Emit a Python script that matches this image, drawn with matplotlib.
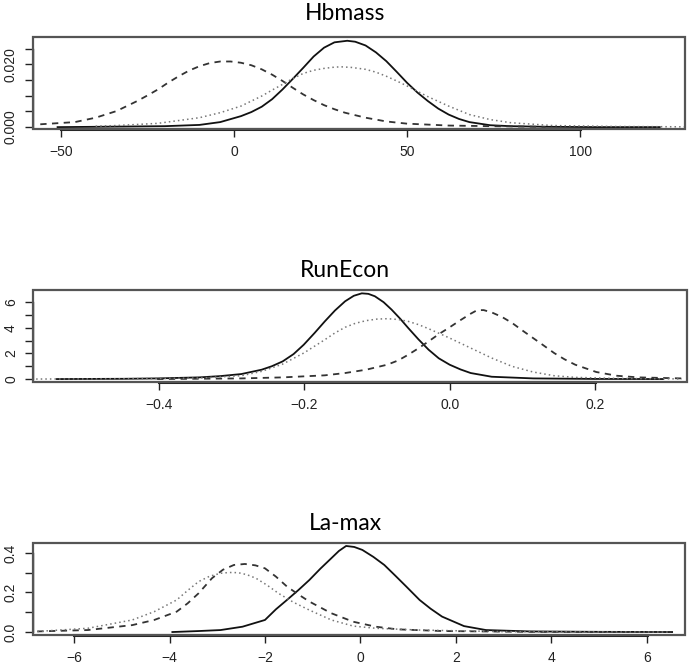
import matplotlib
matplotlib.use("Agg")
import matplotlib.pyplot as plt
from matplotlib.patches import Rectangle

# values (x, density) for each panel
# Hbmass
hb_solid_x = [-51, -40, -30, -20, -10, -4, 2, 5, 8, 11, 14, 17, 20, 23, 26, 29, 32.7, 35, 38, 41, 44, 47, 50,
              53, 56, 59, 62, 65, 68, 74, 80, 90, 105, 123]
hb_solid_y = [0.0, 0.0001, 0.0002, 0.0003, 0.0007, 0.0016, 0.0035, 0.0048, 0.0065, 0.0089, 0.012, 0.0154,
              0.0189, 0.0225, 0.0253, 0.0270, 0.0275, 0.0272, 0.026, 0.0238, 0.021, 0.0176, 0.0141,
              0.0110, 0.0083, 0.0059, 0.004, 0.0026, 0.0016, 0.0006, 0.0003, 0.0001, 0.0, 0.0]
hb_dash_x = [-56, -46, -40, -34, -28, -25, -22, -19, -16, -13, -10, -7, -4, -1, 2, 5, 8, 11, 14, 17, 20, 23,
             26, 29, 32, 38, 44, 50, 62, 74, 90]
hb_dash_y = [0.0009, 0.0016, 0.003, 0.0051, 0.0083, 0.0101, 0.012, 0.0142, 0.0162, 0.0180, 0.0194, 0.0204,
             0.0209, 0.0209, 0.0205, 0.0197, 0.0184, 0.0167, 0.0147, 0.0125, 0.0104, 0.0086, 0.007,
             0.0057, 0.0046, 0.003, 0.0018, 0.0011, 0.0005, 0.0003, 0.0001]
hb_dot_x = [-40, -34, -22, -10, -4, 2, 8, 11, 14, 17, 20, 23, 26, 29, 31, 34, 38, 41, 44, 47, 50, 56, 62, 68,
            74, 80, 92, 110, 130]
hb_dot_y = [0.0003, 0.0005, 0.0012, 0.003, 0.0046, 0.0067, 0.0099, 0.0118, 0.0136, 0.0155, 0.0171, 0.0181,
            0.0187, 0.0191, 0.0192, 0.0190, 0.0184, 0.0175, 0.0162, 0.0147, 0.0131, 0.0097, 0.0067,
            0.004, 0.0024, 0.0014, 0.0005, 0.0002, 0.0001]

# RunEcon
re_solid_x = [-0.541, -0.45, -0.403, -0.345, -0.316, -0.287, -0.259, -0.245, -0.230, -0.215, -0.201, -0.186,
              -0.172, -0.158, -0.144, -0.132, -0.121, -0.112, -0.103, -0.091, -0.080, -0.068, -0.057,
              -0.043, -0.029, -0.015, 0.0, 0.015, 0.029, 0.058, 0.115, 0.2, 0.294]
re_solid_y = [0.0, 0.02, 0.05, 0.13, 0.23, 0.39, 0.73, 1.0, 1.38, 1.95, 2.68, 3.6, 4.5, 5.35, 6.07, 6.5,
              6.69, 6.65, 6.46, 6.0, 5.42, 4.7, 3.98, 3.1, 2.29, 1.62, 1.12, 0.75, 0.47, 0.18, 0.05, 0.01, 0.0]
re_dash_x = [-0.403, -0.287, -0.230, -0.172, -0.144, -0.115, -0.086, -0.071, -0.057, -0.043, -0.029, -0.015,
             0.0, 0.015, 0.029, 0.038, 0.047, 0.058, 0.072, 0.086, 0.100, 0.115, 0.130, 0.144, 0.158,
             0.173, 0.202, 0.230, 0.260, 0.320]
re_dash_y = [0.0, 0.05, 0.13, 0.29, 0.47, 0.73, 1.12, 1.45, 1.9, 2.4, 2.94, 3.5, 4.04, 4.6, 5.1, 5.38, 5.38,
             5.2, 4.85, 4.38, 3.8, 3.2, 2.6, 2.03, 1.55, 1.12, 0.55, 0.26, 0.13, 0.05]
re_dot_x = [-0.576, -0.45, -0.345, -0.287, -0.259, -0.230, -0.201, -0.172, -0.158, -0.144, -0.130, -0.115,
            -0.100, -0.086, -0.071, -0.057, -0.043, -0.029, 0.0, 0.029, 0.058, 0.086, 0.115, 0.144,
            0.173, 0.230, 0.320]
re_dot_y = [0.0, 0.02, 0.08, 0.26, 0.6, 1.17, 2.03, 3.07, 3.6, 4.04, 4.35, 4.56, 4.68, 4.71, 4.65, 4.5, 4.25,
            3.93, 3.2, 2.42, 1.64, 0.99, 0.55, 0.26, 0.13, 0.05, 0.01]

# La-max
la_solid_x = [-3.94, -3.39, -2.93, -2.47, -2.0, -1.77, -1.54, -1.30, -1.07, -0.84, -0.61, -0.45, -0.30,
              -0.13, 0.04, 0.27, 0.50, 0.73, 0.96, 1.24, 1.47, 1.71, 2.17, 2.63, 3.56, 5.0, 6.53]
la_solid_y = [0.0, 0.005, 0.01, 0.027, 0.061, 0.115, 0.162, 0.212, 0.263, 0.320, 0.373, 0.410, 0.435,
              0.430, 0.415, 0.380, 0.339, 0.285, 0.23, 0.162, 0.118, 0.078, 0.03, 0.01, 0.003, 0.001, 0.0]
la_dash_x = [-6.77, -5.71, -4.78, -4.32, -3.85, -3.62, -3.39, -3.11, -2.88, -2.65, -2.42, -2.2, -2.0, -1.77,
             -1.54, -1.30, -1.07, -0.61, -0.15, 0.32, 0.78, 1.71, 3.5, 6.5]
la_dash_y = [0.003, 0.01, 0.035, 0.061, 0.103, 0.145, 0.196, 0.272, 0.315, 0.339, 0.344, 0.337, 0.322,
             0.280, 0.23, 0.19, 0.154, 0.095, 0.052, 0.027, 0.0135, 0.005, 0.001, 0.0]
la_dot_x = [-6.77, -5.71, -4.78, -4.32, -3.85, -3.62, -3.39, -3.16, -2.93, -2.75, -2.56, -2.38, -2.19, -1.95,
            -1.72, -1.40, -1.07, -0.61, -0.15, 0.32, 1.24, 3.0, 6.5]
la_dot_y = [0.003, 0.019, 0.061, 0.103, 0.162, 0.21, 0.255, 0.282, 0.297, 0.301, 0.30, 0.29, 0.272, 0.236,
            0.196, 0.150, 0.111, 0.061, 0.03, 0.019, 0.01, 0.002, 0.0]

panels = [
    dict(title="Hbmass", pos=[33, 37, 685, 129], xlim=(-58.1, 130.3), ylim=(-0.0006, 0.0287),
         xticks=[-50, 0, 50, 100], xlabels=["\u221250", "0", "50", "100"],
         yticks=[0, 0.005, 0.01, 0.015, 0.02, 0.025], ylabels=["0.000", "", "", "", "0.020", ""],
         curves=[(hb_solid_x, hb_solid_y), (hb_dash_x, hb_dash_y), (hb_dot_x, hb_dot_y)], ty=14),
    dict(title="RunEcon", pos=[33, 290, 687, 382], xlim=(-0.574, 0.327), ylim=(-0.23, 6.95),
         xticks=[-0.4, -0.2, 0.0, 0.2], xlabels=["\u22120.4", "\u22120.2", "0.0", "0.2"],
         yticks=[0, 1, 2, 3, 4, 5, 6], ylabels=["0", "", "2", "", "4", "", "6"],
         curves=[(re_solid_x, re_solid_y), (re_dash_x, re_dash_y), (re_dot_x, re_dot_y)], ty=270),
    dict(title="La-max", pos=[33, 543, 685, 635], xlim=(-6.86, 6.8), ylim=(-0.015, 0.45),
         xticks=[-6, -4, -2, 0, 2, 4, 6], xlabels=["\u22126", "\u22124", "\u22122", "0", "2", "4", "6"],
         yticks=[0, 0.1, 0.2, 0.3, 0.4], ylabels=["0.0", "", "0.2", "", "0.4"],
         curves=[(la_solid_x, la_solid_y), (la_dash_x, la_dash_y), (la_dot_x, la_dot_y)], ty=524),
]

W, H = 690, 670
fig = plt.figure(figsize=(W / 100, H / 100), dpi=100)
plt.rcParams['font.family'] = ['Liberation Sans', 'DejaVu Sans']

styles = [dict(color="#111111", lw=1.3, ls="-"),
          dict(color="#333333", lw=1.3, ls=(0, (3.5, 3))),
          dict(color="#777777", lw=1.1, ls=(0, (1, 2)))]

for p in panels:
    l, t, r, b = p["pos"]
    ax = fig.add_axes([l / W, 1 - b / H, (r - l) / W, (b - t) / H])
    for (xs, ys), st in zip(p["curves"], styles):
        ax.plot(xs, ys, **st)
    ax.set_xlim(*p["xlim"])
    ax.set_ylim(*p["ylim"])
    ax.set_xticks(p["xticks"])
    ax.set_xticklabels(p["xlabels"])
    ax.set_yticks(p["yticks"])
    ax.set_yticklabels(p["ylabels"], rotation=90, va="center")
    ax.tick_params(axis="both", length=5.8, width=1.0, color="#222222", labelsize=10, labelcolor="#222222")
    ax.tick_params(axis="x", pad=6)
    ax.tick_params(axis="y", pad=5)
    for side in ["top", "right"]:
        ax.spines[side].set_visible(False)
    ax.spines["bottom"].set_bounds(p["xticks"][0], p["xticks"][-1])
    ax.spines["left"].set_bounds(p["yticks"][0], p["yticks"][-1])
    ax.spines["bottom"].set_linewidth(2.2)
    ax.spines["left"].set_linewidth(1.0)
    ax.spines["bottom"].set_color("#222222")
    ax.spines["left"].set_color("#222222")
    ax.add_patch(Rectangle((0, 0), 1, 1, transform=ax.transAxes, fill=False,
                           edgecolor="#555555", lw=1.6, clip_on=False, zorder=5))
    fig.text(0.5, 1 - p["ty"] / H, p["title"], ha="center", va="center",
             fontsize=16.5, family=["Lato", "DejaVu Sans"])

fig.savefig("out.png", dpi=100)
